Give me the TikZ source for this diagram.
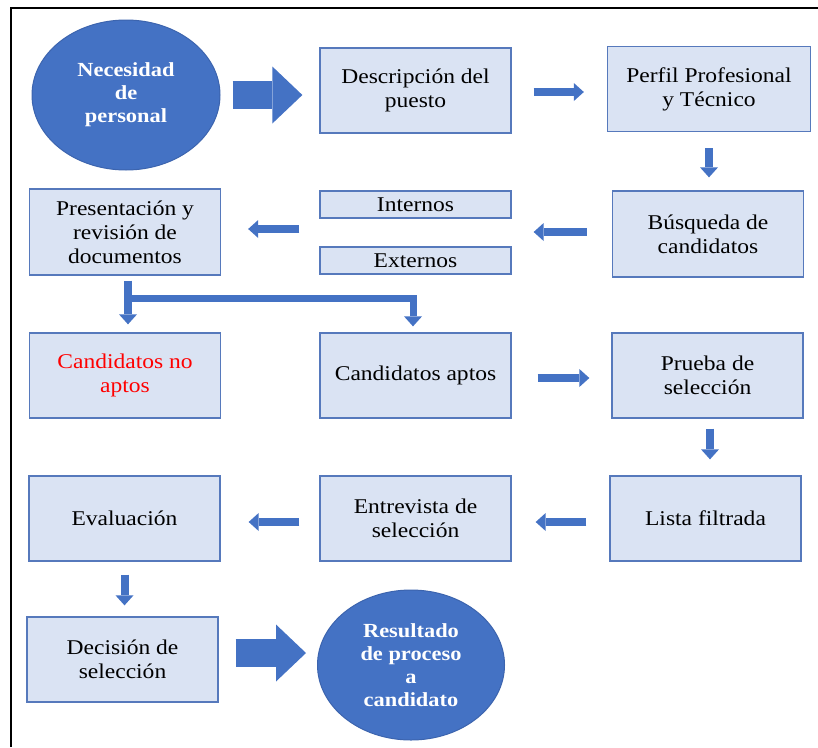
\documentclass[tikz,border=0pt]{standalone}
\usepackage{fontspec}
\setmainfont{Liberation Serif}[FakeStretch=1.12]
\usetikzlibrary{arrows.meta,shapes.geometric,calc}
\definecolor{boxfill}{HTML}{DAE3F3}
\definecolor{boxline}{HTML}{5679BC}
\definecolor{flow}{HTML}{4472C4}
\definecolor{ellline}{HTML}{3C64AE}
\begin{document}
\begin{tikzpicture}[x=1pt,y=-1pt,
  stepbox/.style={draw=boxline,fill=boxfill,line width=1.3pt,minimum width=191pt,minimum height=85pt,inner sep=0pt,align=center,font=\fontsize{21}{24}\selectfont},
  tagbox/.style={stepbox,minimum height=27pt},
  bubble/.style={ellipse,draw=ellline,fill=flow,line width=1pt,minimum width=188pt,minimum height=150pt,inner sep=0pt,align=center,text=white,font=\bfseries\fontsize{20}{23}\selectfont},
  flowarrow/.style={draw=flow,line width=8pt,-{Triangle[length=10pt,width=18pt,line width=0pt]}},
  bigarrow/.style={draw=flow,line width=28pt,-{Triangle[length=30pt,width=57pt,line width=0pt]}},
]
\useasboundingbox (0,0) rectangle (818,747);
% outer frame (top and left edges)
\draw[line width=1.6pt] (11,747) -- (11,8) -- (818,8);

% nodes
\node[bubble] (ell1) at (126,95) {Necesidad\\de\\personal};
\node[stepbox] (desc) at (415.5,90.5) {Descripción del\\puesto};
\node[stepbox,minimum width=203pt] (perfil) at (709,89) {Perfil Profesional\\y Técnico};
\node[stepbox,minimum height=86pt] (busq) at (708,234) {Búsqueda de\\candidatos};
\node[tagbox] (internos) at (415.5,204.5) {Internos};
\node[tagbox] (externos) at (415.5,260.5) {Externos};
\node[stepbox,minimum height=86pt] (pres) at (125,232) {Presentación y\\revisión de\\documentos};
\node[stepbox,text=red] (noaptos) at (125,375.5) {Candidatos no\\aptos};
\node[stepbox] (aptos) at (415.5,375.5) {Candidatos aptos};
\node[stepbox] (prueba) at (707.5,375.5) {Prueba de\\selección};
\node[stepbox] (lista) at (705.5,518.5) {Lista filtrada};
\node[stepbox] (entrev) at (415.5,518.5) {Entrevista de\\selección};
\node[stepbox] (eval) at (124.5,518.5) {Evaluación};
\node[stepbox] (decision) at (122.5,659.5) {Decisión de\\selección};
\node[bubble,minimum width=187pt] (ell2) at (411,665) {Resultado\\de proceso\\a\\candidato};

% connectors
\draw[bigarrow, shorten <=12pt, shorten >=17pt] (ell1.east) -- (ell1.east -| desc.west);
\draw[flowarrow, shorten <=22pt, shorten >=23pt] ([yshift=-1.5pt]desc.east) -- ([yshift=-1.5pt]desc.east -| perfil.west);
\draw[flowarrow, shorten <=16pt, shorten >=13pt] (perfil.south) -- (perfil.south |- busq.north);
\draw[flowarrow, shorten <=25pt, shorten >=22pt] ([yshift=2pt]busq.west) -- ([yshift=2pt]busq.west -| internos.east);
\draw[flowarrow, shorten <=20pt, shorten >=27pt] ([yshift=3pt]pres.east -| internos.west) -- ([yshift=3pt]pres.east);

% split below the document review
\draw[flowarrow, shorten <=5pt, shorten >=8pt] ([xshift=3pt]pres.south) -- ([xshift=3pt]noaptos.north);
\coordinate (split) at ($(pres.south)+(3,23)$);
\draw[flowarrow, line width=7pt, shorten >=6pt] (split) -| ([xshift=-2.5pt]aptos.north);

\draw[flowarrow, shorten <=26pt, shorten >=22pt] ([yshift=-2.5pt]aptos.east) -- ([yshift=-2.5pt]aptos.east -| prueba.west);
\draw[flowarrow, shorten <=10pt, shorten >=16pt] ([xshift=2.5pt]prueba.south) -- ([xshift=2.5pt]prueba.south |- lista.north);
\draw[flowarrow, shorten <=23pt, shorten >=24pt] ([yshift=-3.5pt]lista.west) -- ([yshift=-3.5pt]lista.west -| entrev.east);
\draw[flowarrow, shorten <=20pt, shorten >=28pt] ([yshift=-3.5pt]entrev.west) -- ([yshift=-3.5pt]entrev.west -| eval.east);
\draw[flowarrow, shorten <=13pt, shorten >=11pt] (eval.south) -- (eval.south |- decision.north);
\draw[bigarrow, shorten <=17pt, shorten >=11pt] ([yshift=6.5pt]decision.east) -- ([yshift=6.5pt]decision.east -| ell2.west);
\end{tikzpicture}
\end{document}
